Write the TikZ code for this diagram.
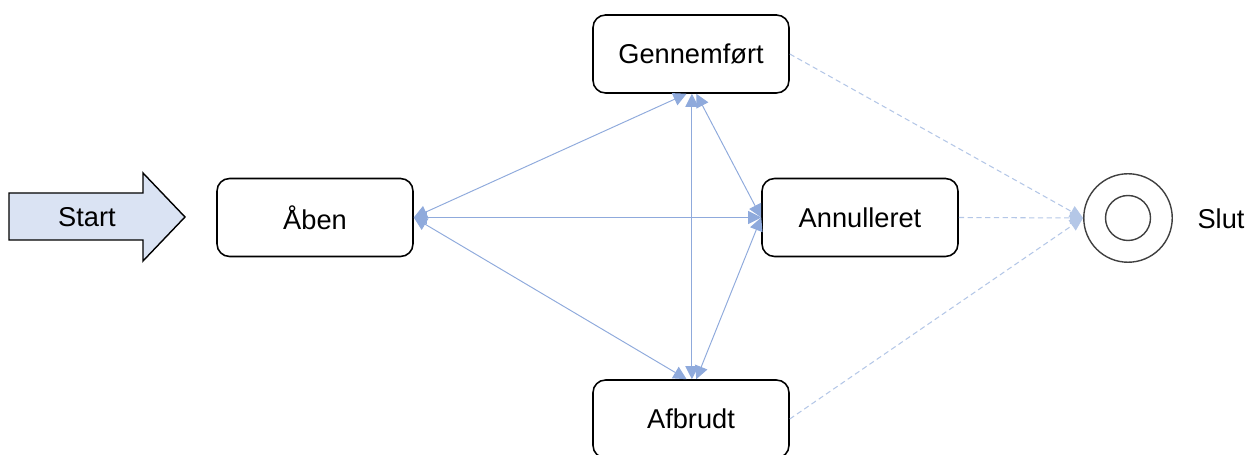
\documentclass[tikz,border=0pt]{standalone}
\usepackage{fontspec}
\setmainfont{Liberation Sans}
\usepackage{xcolor}
\usetikzlibrary{arrows.meta}
\definecolor{flowblue}{HTML}{8FAADC}
\definecolor{endblue}{HTML}{B4C7E7}
\definecolor{startfill}{HTML}{DAE3F3}
\definecolor{endgray}{HTML}{404040}
\tikzset{
    txt/.style = {align=center, inner sep=0pt, font=\fontsize{15.5}{18}\selectfont},
    state/.style = {txt, rectangle, rounded corners=0.25cm, draw=black, line width=0.9pt, minimum width=3.92cm, minimum height=1.56cm},
    startarrow/.style = {draw=black, line width=0.8pt, fill=startfill},
    endring/.style = {circle, draw=endgray, line width=0.8pt, inner sep=0pt},
    flow/.style = {draw=flowblue, line width=0.55pt, {Triangle[length=7.5pt,width=7.5pt]}-{Triangle[length=7.5pt,width=7.5pt]}},
    toend/.style = {draw=endblue, line width=0.6pt, dash pattern=on 3pt off 2pt, -{Triangle[length=7.5pt,width=7pt]}}
}
\begin{document}
\begin{tikzpicture}[x=0.02cm, y=-0.02cm]
    \useasboundingbox (0,0) rectangle (1254,455);

    % start arrow
    \draw[startarrow] (9,193) -- (143,193) -- (143,173) -- (185,217) -- (143,261) -- (143,240) -- (9,240) -- cycle;
    \node[txt] (start) at (87,217) {Start};

    % states
    \node[state] (aaben) at (315,217.5) {Åben};
    \node[state] (gen) at (691,54) {Gennemført};
    \node[state] (ann) at (860,217.5) {Annulleret};
    \node[state] (afb) at (691,419) {Afbrudt};

    % end
    \node[endring, minimum size=1.77cm] (slut) at (1128,218) {};
    \node[endring, minimum size=0.9cm] (slutin) at (slut.center) {};
    \node[txt] (slutlabel) at (1221,219) {Slut};

    % transitions
    \draw[flow] (aaben.east) -- ([xshift=-2.5pt]gen.south);
    \draw[flow] (aaben.east) -- (ann.west);
    \draw[flow] (aaben.east) -- ([xshift=-2.5pt]afb.north);
    \draw[flow] ([xshift=0.5pt]gen.south) -- ([xshift=0.5pt]afb.north);
    \draw[flow] ([xshift=3pt]gen.south) -- (ann.west);
    \draw[flow] ([xshift=3pt]afb.north) -- (ann.west);

    \draw[toend] (gen.east) -- (slut.west);
    \draw[toend] (ann.east) -- (slut.west);
    \draw[toend] (afb.east) -- (slut.west);
\end{tikzpicture}
\end{document}
